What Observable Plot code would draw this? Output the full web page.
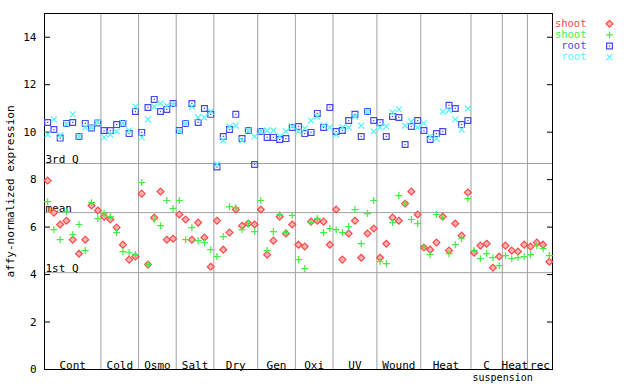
<!DOCTYPE html>
<html><head><meta charset="utf-8">
<script src="https://cdn.jsdelivr.net/npm/d3@7"></script>
<script src="https://cdn.jsdelivr.net/npm/@observablehq/plot@0.6"></script>
<style>
html,body{margin:0;padding:0;background:#fff;}
#chart{width:640px;height:384px;}
</style></head><body><div id="chart"></div>
<script>
const categories = ["Cont","Cold","Osmo","Salt","Dry","Gen","Oxi","UV","Wound","Heat","C","Heat","rec"];
const categoryCounts = [9,6,6,6,7,6,6,7,7,8,5,4,4];
const categorySubLabels = ["","","","","","","","","","","suspension","",""];
const quantileLabels = ["3rd Q","mean","1st Q"];
const quantileValues = [8.68, 6.61, 4.08];
const yTicks = [0,2,4,6,8,10,12,14];
const seriesNames = ["shoot","shoot","root","root"];
const seriesColors = ["#ff4848","#40f040","#4848f0","#50f8f8"];

const shoot1 = [7.96,6.61,6.11,6.27,5.47,4.88,5.47,6.91,6.70,
  6.44,6.32,5.98,5.26,4.63,4.76,
  7.41,4.42,6.40,7.50,5.47,5.51,
  6.53,6.32,5.47,6.19,5.56,4.33,
  6.27,5.05,5.77,6.74,6.06,6.15,6.11,
  6.74,4.84,5.43,6.44,5.73,6.11,
  5.26,5.18,6.23,6.27,6.23,5.26,
  6.74,4.63,5.73,6.27,4.71,5.73,5.94,
  4.71,5.30,6.40,6.27,6.99,7.50,6.53,
  5.14,5.05,5.35,6.44,5.01,6.15,5.64,7.46,
  4.92,5.22,5.30,4.29,4.76,
  5.22,5.01,4.97,5.26,
  5.18,5.35,5.26,4.54];
const shoot2 = [7.07,5.89,5.47,6.65,5.68,6.11,5.01,7.03,6.36,
  6.57,6.44,5.77,4.97,4.92,4.84,
  7.88,4.42,6.32,6.06,7.12,6.78,
  7.12,5.47,5.98,5.43,5.35,5.05,
  4.76,5.60,6.86,6.82,5.89,6.15,5.81,
  7.12,5.01,5.81,6.53,5.77,6.49,
  4.63,4.25,6.19,6.36,5.77,5.94,
  5.89,5.77,6.02,6.74,5.30,6.57,7.12,
  4.54,4.46,6.19,7.33,6.99,6.32,6.15,
  5.14,4.84,6.53,6.40,4.88,5.26,5.51,7.20,
  5.01,4.67,4.88,4.71,4.38,
  4.80,4.67,4.71,4.76,
  4.84,5.22,5.09,4.80];
const root1 = [10.41,10.11,9.75,10.37,10.41,9.82,10.37,10.18,10.39,
  10.07,10.07,10.32,10.37,9.94,10.87,
  9.99,11.04,11.38,10.87,10.96,11.21,
  10.07,10.37,11.21,10.41,11.00,10.75,
  8.53,9.82,10.11,10.75,9.73,10.07,8.64,
  10.03,9.78,9.78,9.69,9.73,10.20,
  10.24,9.94,9.99,10.79,10.20,11.04,
  10.03,10.07,10.49,10.75,9.82,10.87,10.49,
  10.41,9.82,10.66,10.62,9.48,10.24,10.49,
  10.07,9.69,9.94,10.03,11.13,11.00,10.32,10.49];
const root2 = [9.90,10.54,9.87,10.35,10.75,9.82,10.20,10.20,10.41,
  9.78,9.90,10.03,10.37,10.07,11.08,
  9.78,10.54,11.07,11.21,11.12,11.17,
  10.03,10.37,11.08,10.62,10.62,10.87,
  8.65,9.65,10.24,10.28,9.65,10.07,9.82,
  10.03,10.07,10.07,9.82,10.03,10.24,
  10.03,10.16,10.49,10.66,10.28,10.20,
  9.90,10.20,10.20,10.66,10.28,10.87,10.03,
  10.20,10.24,10.83,10.96,10.28,10.45,10.20,
  10.37,9.82,9.73,10.87,10.92,10.54,10.11,11.00];

const toRows = arr => arr.map((v, i) => ({sample: i + 1, value: v}));
const rows = [shoot1, shoot2, root1, root2].map(toRows);

// category geometry derived from counts
let cum = 0;
const catData = categories.map((c, i) => {
  const start = cum + 0.5;
  cum += categoryCounts[i];
  return {label: c, sub: categorySubLabels[i], center: start + categoryCounts[i] / 2, end: cum + 0.5};
});
const nSamples = cum;
const boundaries = catData.slice(0, -1).map(d => d.end);

const symbolSpecs = [
  {symbol: "diamond2", r: 3.1, fill: "#ffb4b4"},
  {symbol: "plus", r: 2.4, fill: "none"},
  {symbol: "square2", r: 3.7, fill: "none"},
  {symbol: "times", r: 2.8, fill: "none"}
];

const legendMarks = seriesNames.flatMap((name, k) => [
  Plot.text([name], {text: d => d, frameAnchor: "top-right", textAnchor: "end", lineAnchor: "middle",
    dx: 34, dy: 10.3 + 11.1 * k, fill: seriesColors[k], fontSize: 10.5}),
  Plot.dot([name], {frameAnchor: "top-right", dx: 57, dy: 10.3 + 11.1 * k,
    symbol: symbolSpecs[k].symbol, r: symbolSpecs[k].r, stroke: seriesColors[k], fill: symbolSpecs[k].fill, strokeWidth: 1.2}),
  ...(k === 2 ? [Plot.dot([name], {frameAnchor: "top-right", dx: 57, dy: 10.3 + 11.1 * k, symbol: "square", r: 0.7, fill: seriesColors[k]})] : [])
]);

const dotMarks = rows.flatMap((data, k) => {
  const m = [Plot.dot(data, {x: "sample", y: "value", symbol: symbolSpecs[k].symbol, r: symbolSpecs[k].r,
    stroke: seriesColors[k], fill: symbolSpecs[k].fill, strokeWidth: 1.2})];
  if (k === 2) m.push(Plot.dot(data, {x: "sample", y: "value", symbol: "square", r: 0.7, fill: seriesColors[k]}));
  return m;
});

const chart = Plot.plot({
  width: 640, height: 384,
  marginLeft: 44, marginRight: 88, marginTop: 13, marginBottom: 15,
  x: {domain: [0.5, nSamples + 0.5], axis: null},
  y: {domain: [0, 15]},
  style: {fontFamily: "'DejaVu Sans Mono', monospace", fontSize: "11px", color: "#000", background: "#fff"},
  marks: [
    Plot.ruleX(boundaries, {stroke: "#a0a0a0", strokeWidth: 1}),
    Plot.ruleY(quantileValues, {stroke: "#a0a0a0", strokeWidth: 1}),
    Plot.text(quantileLabels, {y: (d, i) => quantileValues[i], text: d => d, frameAnchor: "left",
      textAnchor: "start", lineAnchor: "bottom", dx: 1, dy: -0.5}),
    Plot.axisY(yTicks, {anchor: "left", tickSize: -6, tickPadding: 14, label: "affy-normalized expression",
      labelAnchor: "center", labelArrow: "none", labelOffset: 38}),
    Plot.axisY(yTicks, {anchor: "right", tickSize: -6, tickFormat: () => "", label: null}),
    Plot.frame({stroke: "#000"}),
    ...dotMarks,
    Plot.text(catData, {x: "center", text: "label", frameAnchor: "bottom", lineAnchor: "bottom", dy: -1}),
    Plot.text(catData.filter(d => d.sub), {x: "center", text: "sub", frameAnchor: "bottom", lineAnchor: "top", dy: 4, dx: 16, fontSize: 10}),
    ...legendMarks
  ]
});
document.getElementById("chart").appendChild(chart);
</script>
</body></html>
